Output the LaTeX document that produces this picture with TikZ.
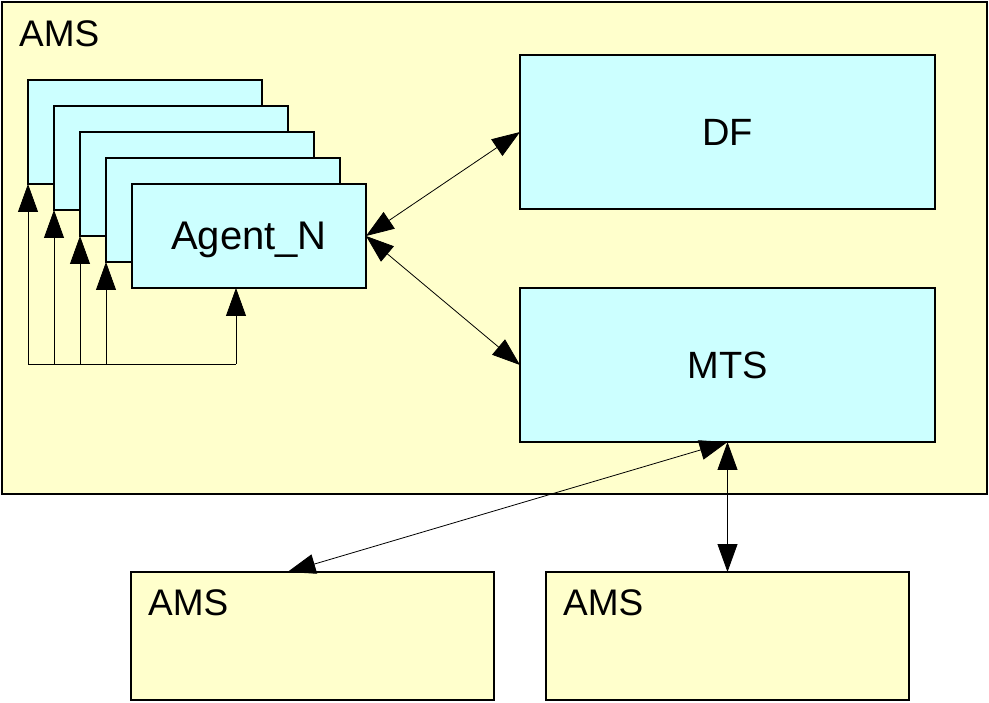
\documentclass[tikz,border=0pt]{standalone}
\usepackage{fontspec}
\setmainfont{Liberation Sans}
\usepackage{xcolor}
\definecolor{amsbg}{HTML}{FFFFCC}
\definecolor{agentbg}{HTML}{CCFFFF}
\usetikzlibrary{arrows.meta,positioning}
\tikzset{
  amsbox/.style={draw,line width=1.1pt,fill=amsbg,outer sep=0pt,inner sep=0pt},
  agentbox/.style={draw,line width=1.1pt,fill=agentbg,outer sep=0pt,inner sep=0pt,minimum width=234pt,minimum height=104pt,text depth=0pt,font=\fontsize{40}{46}\selectfont},
  svcbox/.style={draw,line width=1.1pt,fill=agentbg,outer sep=0pt,inner sep=0pt,minimum width=415pt,minimum height=154pt,text depth=0pt,font=\fontsize{38}{44}\selectfont},
  amslabel/.style={inner sep=0pt,anchor=north west,font=\fontsize{37}{44}\selectfont},
  msgline/.style={line width=0.8pt},
  msgflow/.style={line width=0.8pt,-{Triangle[length=28pt,width=20pt]}},
  msgboth/.style={line width=0.8pt,{Triangle[length=28pt,width=20pt]}-{Triangle[length=28pt,width=20pt]}},
}
\begin{document}
\begin{tikzpicture}[x=1pt,y=-1pt,node distance=79pt and 52pt]
\useasboundingbox (0,0) rectangle (989,703);
% platform
\node[amsbox,anchor=north west,minimum width=985pt,minimum height=492pt] (ams) at (2,2) {};
\node[amslabel] (amst) at ([shift={(17,18)}]ams.north west) {AMS};
% agents
\node[agentbox,anchor=north west] (a1) at (28,80) {};
\node[agentbox,anchor=north west] (a2) at ([shift={(26,26)}]a1.north west) {};
\node[agentbox,anchor=north west] (a3) at ([shift={(26,26)}]a2.north west) {};
\node[agentbox,anchor=north west] (a4) at ([shift={(26,26)}]a3.north west) {};
\node[agentbox,anchor=north west] (a5) at ([shift={(26,26)}]a4.north west) {Agent\_N};
% services
\node[svcbox,anchor=north west] (df) at (520,55) {DF};
\node[svcbox,below=of df] (mts) {MTS};
% remote platforms
\node[amsbox,anchor=north west,minimum width=363pt,minimum height=128pt] (ams2) at (131,572) {};
\node[amsbox,right=of ams2,minimum width=363pt,minimum height=128pt] (ams3) {};
\node[amslabel] (ams2t) at ([shift={(17,17)}]ams2.north west) {AMS};
\node[amslabel] (ams3t) at ([shift={(17,17)}]ams3.north west) {AMS};
% agent loop
\coordinate (base) at (28,364);
\coordinate (a5dock) at ([xshift=-13pt]a5.south);
\coordinate (ams2dock) at ([xshift=-25pt]ams2.north);
\draw[msgline] (base) -- (base -| a5dock);
\draw[msgflow] (base) -- (a1.south west);
\draw[msgflow] (base -| a2.south west) -- (a2.south west);
\draw[msgflow] (base -| a3.south west) -- (a3.south west);
\draw[msgflow] (base -| a4.south west) -- (a4.south west);
\draw[msgflow] (base -| a5dock) -- (a5dock);
% messages
\draw[msgboth] (a5.east) -- (df.west);
\draw[msgboth] (a5.east) -- (mts.west);
\draw[msgboth] (ams2dock) -- (mts.south);
\draw[msgboth] (mts.south) -- (ams3.north);
\end{tikzpicture}
\end{document}
